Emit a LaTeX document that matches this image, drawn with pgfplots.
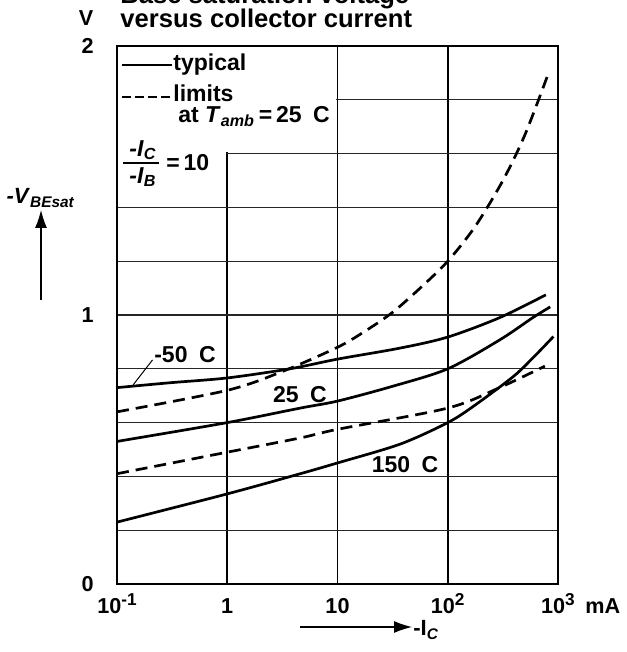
\documentclass[border=0pt]{standalone}
\usepackage{pgfplots}
\pgfplotsset{compat=1.18}
\usepackage{fontspec}
\setmainfont{Liberation Sans}
\usetikzlibrary{arrows.meta}
\newcommand\sups[1]{\raisebox{3.6pt}{\fontsize{8.6}{10}\selectfont #1}}

\begin{document}
\begin{tikzpicture}[font=\bfseries]
\begin{axis}[
    name=ax, at={(0,0)}, anchor=south west,
    scale only axis, width=220.5pt, height=269pt,
    xmode=log, xmin=0.1, xmax=1000, ymin=0, ymax=2,
    xtick={0.1,1,10,100,1000},
    xticklabels={10\sups{-1},1,10,10\sups{2},10\sups{3}},
    ytick={0,0.2,0.4,0.6,0.8,1,1.2,1.4,1.6,1.8,2},
    yticklabels={0,,,,,1,,,,,2},
    major tick length=0pt, minor tick length=0pt,
    grid=major,
    x grid style={black, line width=0.9pt},
    y grid style={black!85, line width=0.65pt},
    axis line style={line width=1pt},
    tick label style={font=\bfseries\fontsize{10.8}{12}\selectfont},
    xticklabel style={anchor=base, inner sep=0pt, yshift=-14.5pt},
    yticklabel style={anchor=east, inner sep=0pt, xshift=-11.5pt},
]
% white area behind the key
\fill[white] (axis cs:0.1,1.45) rectangle (axis cs:0.97,2);
\fill[white] (axis cs:0.9,1.606) rectangle (axis cs:9.7,2);
\draw[line width=1pt] (rel axis cs:0,0) rectangle (rel axis cs:1,1);

% -50 C typical
\addplot[smooth, line width=1.35pt] coordinates {
    (0.1,0.73) (0.3,0.748) (1,0.766) (3.7,0.80) (10,0.836) (37,0.877)
    (100,0.918) (295,0.99) (776,1.075)
};
% 25 C typical
\addplot[smooth, line width=1.35pt] coordinates {
    (0.1,0.53) (1,0.60) (4.6,0.654) (10,0.68) (31.6,0.735) (100,0.80)
    (295,0.907) (590,0.99) (850,1.03)
};
% 150 C typical
\addplot[smooth, line width=1.35pt] coordinates {
    (0.1,0.23) (1,0.335) (4.6,0.41) (10,0.45) (37,0.52) (100,0.60)
    (170,0.66) (390,0.77) (590,0.84) (910,0.92)
};
% upper limit
\addplot[smooth, line width=1.35pt, dash pattern=on 6pt off 3.5pt] coordinates {
    (0.1,0.64) (1,0.72) (3.16,0.79) (10,0.88) (17.8,0.94) (31.6,1.01)
    (56.2,1.10) (100,1.20) (177.8,1.33) (316.2,1.50) (501.2,1.67) (812.8,1.895)
};
% lower limit
\addplot[smooth, line width=1.35pt, dash pattern=on 6pt off 3.5pt] coordinates {
    (0.1,0.41) (1,0.49) (4.6,0.543) (10,0.575) (100,0.654) (295,0.73) (760,0.81)
};
% leader to the -50 C curve
\draw[line width=0.5pt] (axis cs:0.14,0.74) -- (axis cs:0.21,0.833);
\end{axis}

\begin{scope}[x=1pt, y=1pt]
% title, first line cut by the page edge as in the original
\node[anchor=base west, inner sep=0pt, font=\bfseries\fontsize{12.8}{14}\selectfont]
    at (1.5,290) {Base saturation voltage};
\node[anchor=base west, inner sep=0pt, font=\bfseries\fontsize{12.8}{14}\selectfont]
    at (1.5,278) {versus collector current};
% unit and axis labels
\node[font=\bfseries\fontsize{10.8}{12}\selectfont] at (-15.5,283) {V};
\node[font=\bfseries\fontsize{11}{13}\selectfont] at (-38,193)
    {\textit{-V}\textsubscript{\textit{BEsat}}};
\draw[line width=0.6pt, -{Latex[length=9pt, width=6pt]}] (-38,142) -- (-38,187);
\draw[line width=0.6pt, -{Latex[length=9pt, width=6pt]}] (91.5,-21.5) -- (147.5,-21.5);
\node[anchor=west, inner sep=0pt, font=\bfseries\fontsize{11}{13}\selectfont] at (148,-23)
    {-I\textsubscript{\textit{C}}};
\node[anchor=base west, inner sep=0pt, font=\bfseries\fontsize{10.8}{12}\selectfont]
    at (234,-14.5) {mA};
% key
\begin{scope}[font=\bfseries\fontsize{11.5}{13}\selectfont]
\draw[line width=1.2pt] (2.5,259.5) -- (27.5,259.5);
\node[anchor=base west, inner sep=0pt] at (28,256.6) {typical};
\draw[line width=1.2pt, dash pattern=on 4.5pt off 2pt] (2.5,243.5) -- (27.5,243.5);
\node[anchor=base west, inner sep=0pt] at (28,241) {limits};
\node[anchor=base west, inner sep=0pt] at (30.5,230.5)
    {at \textit{T}\textsubscript{\textit{amb}}\,=\,25\enspace C};
\node[inner sep=0pt] at (13,217) {\textit{-I}\textsubscript{\textit{C}}};
\draw[line width=0.9pt] (3,210.5) -- (21,210.5);
\node[inner sep=0pt] at (13,203.5) {\textit{-I}\textsubscript{\textit{B}}};
\node[anchor=west, inner sep=0pt] at (24.5,210.5) {=\,10};
% curve labels
\node at (34,114.5) {-50\enspace C};
\node at (91.5,94.5) {25\enspace C};
\node at (144,59.5) {150\enspace C};
\end{scope}
\pgfresetboundingbox
\path[use as bounding box] (-58.5,-34) rectangle (254.5,292);
\end{scope}
\end{tikzpicture}
\end{document}
